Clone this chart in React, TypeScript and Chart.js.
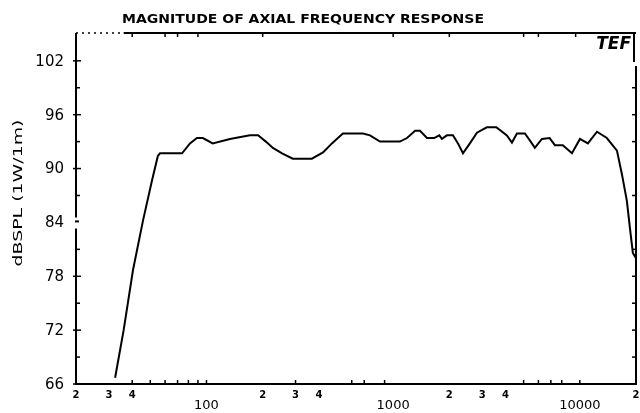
import React, { useEffect, useRef } from "react";
import { Chart, registerables } from "chart.js";
Chart.register(...registerables);

const TITLE = "MAGNITUDE OF AXIAL FREQUENCY RESPONSE";
const Y_TITLE = "dBSPL (1W/1m)";
const BADGE = "TEF";

const FREQS = [32.4, 36, 40.4, 45.7, 51.1, 54.9, 56.4, 74, 81.6, 88.9, 95.7, 108, 133.6, 171, 189, 208, 227, 254, 290, 367, 421, 470, 506, 538, 689, 752, 850, 1087, 1186, 1312, 1393, 1518, 1658, 1767, 1825, 1942, 2091, 2225, 2366, 2577, 2812, 3175, 3570, 4066, 4330, 4604, 5083, 5537, 5743, 6267, 6890, 7360, 8110, 9076, 10020, 11045, 12362, 13960, 15810, 16800, 17870, 18550, 19240, 20000];
const LEVELS = [66.7, 72.0, 78.7, 84.2, 88.7, 91.4, 91.7, 91.7, 92.8, 93.4, 93.4, 92.8, 93.3, 93.7, 93.7, 93.0, 92.3, 91.7, 91.1, 91.1, 91.8, 92.8, 93.4, 93.9, 93.9, 93.7, 93.0, 93.0, 93.4, 94.2, 94.2, 93.4, 93.4, 93.7, 93.3, 93.7, 93.7, 92.8, 91.7, 92.8, 94.0, 94.6, 94.6, 93.7, 92.9, 93.9, 93.9, 92.8, 92.3, 93.3, 93.4, 92.6, 92.6, 91.7, 93.3, 92.8, 94.1, 93.4, 92.0, 89.4, 86.4, 83.4, 80.6, 80.0];

const Y_TICKS = [66, 72, 78, 84, 90, 96, 102];
const Y_MINOR = [69, 75, 81, 87, 93, 99];
const X_LABEL_VALUES = [20, 30, 40, 100, 200, 300, 400, 1000, 2000, 3000, 4000, 10000, 20000];
const X_LABEL_TEXTS = ["2", "3", "4", "100", "2", "3", "4", "1000", "2", "3", "4", "10000", "2"];
const X_BOTTOM_TICKS = [40, 50, 60, 70, 80, 90, 100, 300, 600, 700, 900, 5000, 6000, 7000, 8000, 10000];
const X_TOP_TICKS = [40, 60, 70, 90, 200, 1000, 2000, 5000, 6000, 9500];

const X_MIN = 20;
const X_MAX = 20000;
const Y_MIN = 66;
const Y_MAX = 105.1;

const decor = {
  id: "decor",
  afterDraw(chart: any) {
    const { ctx, chartArea: a, scales } = chart;
    const xs = scales.x;
    const ys = scales.y;
    ctx.save();
    ctx.strokeStyle = "#000";
    ctx.fillStyle = "#000";
    ctx.lineWidth = 2;
    ctx.lineCap = "butt";

    const line = (x1: number, y1: number, x2: number, y2: number) => {
      ctx.beginPath();
      ctx.moveTo(x1, y1);
      ctx.lineTo(x2, y2);
      ctx.stroke();
    };

    const y84 = ys.getPixelForValue(84);
    line(a.left, a.top, a.left, y84 - 5);
    line(a.left, y84 + 6, a.left, a.bottom);
    line(a.left - 1, y84 - 1, a.left + 3, y84 - 1);
    line(a.left - 1, a.bottom, a.right, a.bottom);
    const xBreak = xs.getPixelForValue(36);
    ctx.save();
    ctx.lineWidth = 1.5;
    ctx.setLineDash([2, 4]);
    line(a.left, a.top, xBreak, a.top);
    ctx.restore();
    line(xBreak, a.top, a.right, a.top);
    line(a.right - 2, a.top, a.right - 2, a.top + 29);
    line(a.right, a.top + 33, a.right, a.bottom + 1);

    ctx.lineWidth = 1.5;
    Y_TICKS.forEach((v) => {
      const y = ys.getPixelForValue(v);
      if (v !== 84) line(a.left - 3, y, a.left + 5, y);
    });
    Y_MINOR.forEach((v) => {
      const y = ys.getPixelForValue(v);
      line(a.left - 1, y, a.left + 4, y);
      line(a.right - 4, y, a.right, y);
    });
    [72, 78, 96].forEach((v) => {
      const y = ys.getPixelForValue(v);
      line(a.right - 4, y, a.right, y);
    });
    X_BOTTOM_TICKS.forEach((v) => {
      const x = xs.getPixelForValue(v);
      line(x, a.bottom, x, a.bottom - 4);
    });
    X_TOP_TICKS.forEach((v) => {
      const x = xs.getPixelForValue(v);
      line(x, a.top, x, a.top + 4);
    });

    ctx.font = "15px 'DejaVu Sans'";
    ctx.textAlign = "right";
    ctx.textBaseline = "middle";
    Y_TICKS.forEach((v) => {
      ctx.fillText(String(v), a.left - 12, ys.getPixelForValue(v) + 1);
    });

    ctx.textAlign = "center";
    X_LABEL_VALUES.forEach((v, i) => {
      const t = X_LABEL_TEXTS[i];
      const x = xs.getPixelForValue(v);
      if (t.length > 1) {
        ctx.font = "13px 'DejaVu Sans'";
        ctx.fillText(t, x, a.bottom + 22);
      } else {
        ctx.font = "bold 10px 'DejaVu Sans'";
        ctx.fillText(t, x, a.bottom + 11);
      }
    });

    ctx.font = "bold 12px 'DejaVu Sans'";
    ctx.textAlign = "left";
    const tw = ctx.measureText(TITLE).width;
    ctx.save();
    ctx.translate(122, 20);
    ctx.scale(362 / tw, 1);
    ctx.fillText(TITLE, 0, 0);
    ctx.restore();

    ctx.font = "italic bold 17px 'DejaVu Sans'";
    ctx.textAlign = "right";
    ctx.fillText(BADGE, a.right - 5, a.top + 12);

    ctx.font = "13px 'DejaVu Sans'";
    ctx.textAlign = "center";
    const yw = ctx.measureText(Y_TITLE).width;
    ctx.save();
    ctx.translate(19, 193);
    ctx.rotate(-Math.PI / 2);
    ctx.scale(147 / yw, 1);
    ctx.fillText(Y_TITLE, 0, 0);
    ctx.restore();

    ctx.restore();
  },
};

export default function App() {
  const ref = useRef<HTMLCanvasElement | null>(null);
  useEffect(() => {
    if (!ref.current) return;
    const chart = new Chart(ref.current, {
      type: "line",
      data: {
        datasets: [
          {
            data: FREQS.map((f, i) => ({ x: f, y: LEVELS[i] })),
            borderColor: "#000",
            borderWidth: 2,
            pointRadius: 0,
            tension: 0,
            fill: false,
          },
        ],
      },
      options: {
        responsive: false,
        animation: false,
        devicePixelRatio: 1,
        layout: { padding: { left: 76, right: 4, top: 33, bottom: 29 } },
        plugins: { legend: { display: false }, tooltip: { enabled: false }, title: { display: false } },
        scales: {
          x: { type: "logarithmic", min: X_MIN, max: X_MAX, display: false },
          y: { type: "linear", min: Y_MIN, max: Y_MAX, display: false },
        },
      },
      plugins: [decor],
    });
    return () => chart.destroy();
  }, []);
  return (
    <div style={{ position: "absolute", left: 0, top: 0, width: 640, height: 413, background: "#fff" }}>
      <canvas ref={ref} width={640} height={413} />
    </div>
  );
}
